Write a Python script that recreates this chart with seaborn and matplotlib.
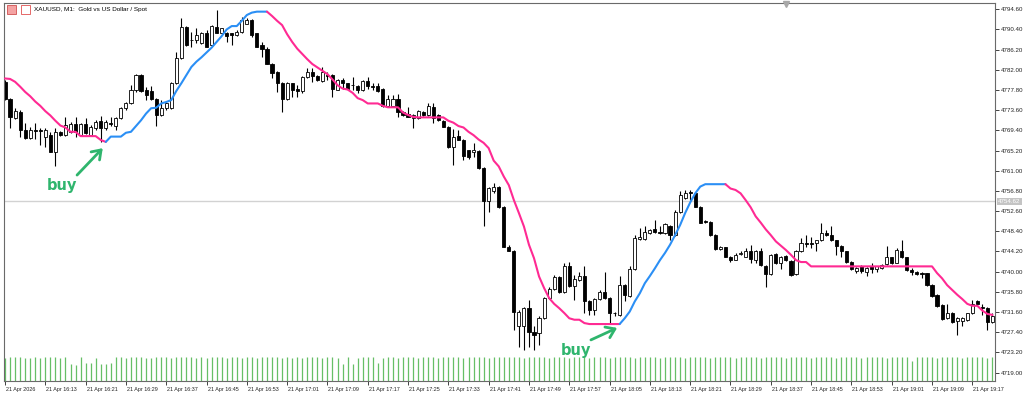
import numpy as np
import pandas as pd
import matplotlib
matplotlib.use('Agg')
import matplotlib.pyplot as plt
import matplotlib.transforms as mtransforms
from matplotlib.patches import Rectangle
import seaborn as sns

# XAUUSD M1 bars, 21 Apr 2026 16:05 -> 19:21
opens = [4779.5, 4775.9, 4771.9, 4773.3, 4769.5, 4767.9, 4769.5, 4769.5, 4768.1, 4768.4,
         4765.0, 4769.1, 4768.4, 4769.1, 4770.7, 4768.4, 4770.7, 4768.4, 4769.8, 4771.4,
         4769.8, 4771.0, 4770.3, 4771.9, 4774.0, 4775.0, 4777.8, 4780.9, 4777.9, 4777.6,
         4775.9, 4772.6, 4774.0, 4774.0, 4779.2, 4784.4, 4791.0, 4788.3, 4788.2, 4787.6,
         4789.6, 4787.1, 4791.0, 4789.6, 4789.6, 4789.6, 4789.2, 4789.9, 4791.6, 4792.3,
         4789.6, 4787.1, 4786.4, 4783.3, 4781.6, 4779.3, 4775.9, 4779.2, 4778.1, 4777.6,
         4780.4, 4781.6, 4780.7, 4779.7, 4781.0, 4780.9, 4777.9, 4779.9, 4779.2, 4778.9,
         4778.6, 4777.8, 4779.7, 4778.7, 4778.6, 4778.1, 4774.5, 4774.5, 4775.9, 4773.3,
         4772.9, 4771.9, 4771.9, 4773.3, 4772.6, 4774.3, 4772.6, 4771.4, 4770.2, 4765.9,
         4768.2, 4767.4, 4765.3, 4765.0, 4765.2, 4761.5, 4754.6, 4756.7, 4757.6, 4753.5,
         4745.2, 4744.4, 4728.6, 4728.6, 4732.4, 4727.5, 4727.2, 4730.3, 4734.5, 4736.4,
         4738.8, 4735.7, 4741.1, 4737.0, 4738.3, 4739.1, 4733.8, 4732.0, 4734.3, 4735.7,
         4734.5, 4731.4, 4731.0, 4737.2, 4735.0, 4740.5, 4746.7, 4746.7, 4748.0, 4748.8,
         4748.3, 4748.0, 4749.5, 4747.6, 4752.5, 4755.3, 4756.5, 4756.3, 4753.5, 4750.5,
         4750.4, 4747.6, 4744.7, 4745.1, 4743.1, 4742.5, 4743.7, 4743.1, 4744.4, 4742.4,
         4744.4, 4741.2, 4739.5, 4743.7, 4741.8, 4743.3, 4742.3, 4739.5, 4744.2, 4746.0,
         4746.0, 4745.9, 4746.5, 4748.0, 4747.6, 4746.5, 4745.4, 4744.2, 4742.1, 4740.2,
         4741.1, 4740.0, 4741.1, 4740.5, 4740.7, 4741.6, 4743.0, 4741.9, 4744.4, 4743.0,
         4740.4, 4740.0, 4739.7, 4739.7, 4737.2, 4735.2, 4733.1, 4730.3, 4731.5, 4729.8,
         4729.8, 4730.0, 4731.4, 4733.8, 4732.7, 4732.4, 4729.6]
closes = [4775.9, 4772.1, 4773.4, 4769.5, 4767.9, 4769.5, 4769.2, 4769.2, 4769.5, 4765.0,
          4769.1, 4768.4, 4770.5, 4770.7, 4769.1, 4770.7, 4768.9, 4770.2, 4771.2, 4769.8,
          4771.2, 4770.7, 4771.9, 4774.0, 4775.0, 4777.8, 4780.9, 4777.6, 4776.7, 4775.9,
          4772.6, 4774.0, 4775.0, 4779.2, 4784.4, 4791.0, 4787.1, 4788.1, 4789.2, 4789.6,
          4786.8, 4791.1, 4789.7, 4790.6, 4789.0, 4789.2, 4789.9, 4792.3, 4792.3, 4789.2,
          4786.8, 4786.4, 4783.3, 4781.3, 4779.2, 4775.9, 4779.3, 4777.9, 4777.6, 4780.4,
          4781.6, 4780.7, 4779.9, 4781.6, 4780.8, 4778.1, 4779.9, 4779.2, 4778.1, 4778.8,
          4777.8, 4779.7, 4778.6, 4778.5, 4777.6, 4774.5, 4775.9, 4775.9, 4773.3, 4772.6,
          4772.2, 4772.6, 4773.5, 4772.6, 4774.5, 4771.9, 4771.5, 4770.2, 4765.9, 4768.1,
          4767.4, 4764.1, 4763.9, 4765.3, 4761.5, 4754.6, 4757.4, 4757.7, 4753.4, 4745.2,
          4744.4, 4731.7, 4731.7, 4732.4, 4727.5, 4726.9, 4730.3, 4734.5, 4736.4, 4738.8,
          4735.7, 4741.1, 4737.0, 4738.4, 4739.1, 4733.8, 4732.0, 4734.3, 4735.7, 4734.5,
          4731.4, 4731.3, 4737.2, 4735.2, 4740.5, 4747.0, 4747.3, 4748.3, 4748.7, 4748.3,
          4748.0, 4749.9, 4747.6, 4752.5, 4756.0, 4756.4, 4756.4, 4753.5, 4750.2, 4750.4,
          4747.6, 4744.7, 4745.1, 4743.1, 4742.5, 4743.4, 4743.9, 4744.2, 4742.7, 4744.4,
          4741.4, 4739.5, 4743.4, 4741.8, 4743.1, 4742.4, 4739.3, 4744.2, 4745.9, 4745.8,
          4745.8, 4746.5, 4748.0, 4747.6, 4746.5, 4745.4, 4744.2, 4742.1, 4740.5, 4740.7,
          4740.2, 4740.7, 4740.5, 4741.1, 4741.4, 4743.0, 4741.8, 4744.5, 4743.0, 4740.4,
          4740.0, 4739.5, 4739.6, 4737.2, 4735.0, 4732.9, 4730.1, 4731.5, 4729.6, 4730.3,
          4730.3, 4731.4, 4733.3, 4733.3, 4732.5, 4729.6, 4730.7]
highs = [4779.9, 4776.1, 4774.0, 4773.6, 4770.9, 4770.2, 4770.9, 4769.8, 4769.8, 4769.1,
         4769.8, 4769.3, 4772.1, 4771.2, 4772.2, 4771.0, 4771.9, 4770.5, 4771.5, 4772.4,
         4771.5, 4772.1, 4772.2, 4774.2, 4775.4, 4778.8, 4781.1, 4781.1, 4778.5, 4778.6,
         4776.1, 4775.7, 4775.4, 4779.5, 4785.8, 4792.7, 4791.1, 4789.9, 4790.6, 4789.9,
         4790.3, 4791.3, 4794.4, 4790.8, 4789.9, 4789.7, 4790.3, 4793.0, 4792.7, 4792.5,
         4789.7, 4787.8, 4786.7, 4783.5, 4781.8, 4779.5, 4779.5, 4779.3, 4778.8, 4780.7,
         4782.3, 4782.3, 4780.9, 4782.6, 4781.6, 4781.1, 4780.0, 4780.2, 4779.3, 4780.6,
         4778.8, 4779.9, 4780.6, 4779.2, 4779.2, 4778.3, 4776.7, 4776.7, 4776.9, 4773.5,
         4774.3, 4772.8, 4773.6, 4773.5, 4775.0, 4775.0, 4772.8, 4771.5, 4770.3, 4769.6,
         4769.5, 4767.5, 4765.4, 4766.8, 4765.3, 4761.7, 4757.7, 4758.4, 4757.8, 4753.7,
         4745.6, 4744.5, 4732.0, 4732.6, 4734.1, 4728.6, 4730.7, 4734.8, 4736.9, 4739.3,
         4739.0, 4741.8, 4742.1, 4739.3, 4740.0, 4741.1, 4734.0, 4734.5, 4736.2, 4740.0,
         4734.7, 4731.7, 4739.1, 4737.5, 4741.1, 4747.6, 4749.0, 4749.4, 4748.8, 4750.8,
         4749.4, 4750.1, 4749.7, 4752.8, 4756.7, 4757.0, 4756.9, 4756.4, 4753.7, 4750.8,
         4750.6, 4747.8, 4745.4, 4745.2, 4743.3, 4743.8, 4744.2, 4744.9, 4745.6, 4744.5,
         4744.9, 4741.4, 4743.7, 4743.8, 4743.3, 4743.4, 4742.4, 4744.5, 4747.0, 4747.6,
         4747.3, 4746.6, 4750.1, 4748.7, 4749.4, 4746.6, 4745.6, 4744.4, 4742.3, 4740.9,
         4741.4, 4740.9, 4741.8, 4741.2, 4741.6, 4745.4, 4743.1, 4744.9, 4746.6, 4743.1,
         4740.7, 4740.2, 4740.0, 4739.8, 4737.5, 4735.4, 4733.3, 4733.3, 4731.7, 4730.5,
         4730.5, 4731.5, 4734.0, 4734.0, 4733.3, 4732.6, 4731.4]
lows = [4775.7, 4769.8, 4771.7, 4768.1, 4767.7, 4767.7, 4767.7, 4766.3, 4766.0, 4764.8,
        4761.9, 4768.2, 4768.2, 4768.9, 4768.1, 4768.2, 4768.6, 4768.2, 4769.5, 4767.0,
        4769.5, 4770.3, 4769.5, 4771.7, 4773.6, 4774.9, 4777.4, 4777.4, 4775.7, 4775.7,
        4770.3, 4772.4, 4773.6, 4773.8, 4779.0, 4784.2, 4786.9, 4786.8, 4787.5, 4787.4,
        4786.7, 4786.9, 4789.6, 4789.4, 4787.8, 4787.1, 4789.0, 4789.7, 4791.5, 4788.9,
        4786.7, 4784.7, 4783.2, 4780.2, 4777.4, 4773.3, 4775.7, 4776.4, 4776.3, 4777.1,
        4780.2, 4779.5, 4779.7, 4779.5, 4779.9, 4776.3, 4777.8, 4778.1, 4777.9, 4777.8,
        4777.1, 4777.6, 4778.1, 4777.8, 4777.4, 4774.3, 4774.3, 4774.3, 4772.2, 4772.4,
        4772.1, 4769.8, 4771.7, 4772.4, 4772.4, 4771.0, 4771.4, 4770.0, 4765.7, 4762.2,
        4767.3, 4763.2, 4763.4, 4763.9, 4761.3, 4749.4, 4752.5, 4756.4, 4753.2, 4745.1,
        4744.2, 4727.9, 4724.4, 4723.7, 4724.4, 4723.7, 4724.8, 4730.1, 4734.3, 4736.2,
        4735.5, 4735.5, 4736.9, 4734.1, 4738.1, 4731.4, 4731.0, 4731.0, 4734.1, 4734.3,
        4729.3, 4730.7, 4730.8, 4733.8, 4734.8, 4740.4, 4746.6, 4746.6, 4747.9, 4748.1,
        4747.9, 4747.9, 4746.6, 4747.4, 4752.3, 4755.1, 4754.9, 4753.4, 4750.1, 4750.2,
        4747.4, 4744.5, 4744.5, 4743.0, 4742.1, 4742.4, 4743.4, 4743.0, 4741.8, 4741.8,
        4741.2, 4736.9, 4739.3, 4741.6, 4740.5, 4742.3, 4739.0, 4739.3, 4744.0, 4745.2,
        4744.9, 4744.2, 4746.3, 4747.4, 4746.3, 4743.4, 4743.1, 4741.9, 4740.4, 4739.8,
        4739.8, 4739.0, 4739.8, 4740.0, 4740.5, 4741.4, 4741.6, 4741.8, 4742.8, 4740.2,
        4739.3, 4739.3, 4738.6, 4737.0, 4734.8, 4732.7, 4730.0, 4730.1, 4729.4, 4726.9,
        4728.7, 4729.8, 4731.2, 4733.1, 4731.0, 4727.9, 4729.4]
trend = [4780.2, 4780.1, 4779.5, 4778.5, 4777.4, 4776.5, 4775.4, 4774.5, 4773.4, 4772.5,
         4771.4, 4770.4, 4770.0, 4769.1, 4769.1, 4768.2, 4768.2, 4768.2, 4768.2, 4767.4,
         4767.0, 4768.1, 4768.1, 4768.1, 4768.9, 4769.1, 4770.3, 4771.5, 4772.9, 4774.0,
         4774.1, 4775.0, 4775.3, 4775.7, 4777.6, 4779.2, 4780.9, 4782.6, 4783.7, 4784.6,
         4785.6, 4786.6, 4787.8, 4789.0, 4790.4, 4791.1, 4791.1, 4792.2, 4793.4, 4793.9,
         4794.1, 4794.1, 4794.1, 4793.2, 4792.2, 4791.3, 4789.4, 4787.8, 4786.4, 4785.3,
         4784.2, 4783.2, 4782.5, 4781.8, 4781.1, 4780.0, 4778.8, 4778.1, 4777.9, 4777.2,
         4776.1, 4775.7, 4775.0, 4775.0, 4775.0, 4774.5, 4774.2, 4774.2, 4774.2, 4773.1,
         4772.6, 4772.2, 4772.1, 4772.1, 4772.1, 4772.1, 4772.1, 4772.1, 4771.4, 4771.0,
         4770.3, 4770.0, 4769.1, 4768.4, 4767.5, 4766.8, 4765.7, 4763.1, 4761.9, 4759.8,
         4758.0, 4754.9, 4752.2, 4749.4, 4745.6, 4742.8, 4739.0, 4736.6, 4734.5, 4733.3,
         4732.4, 4731.4, 4730.3, 4730.0, 4730.0, 4729.3, 4729.1, 4729.1, 4729.1, 4729.1,
         4729.1, 4729.1, 4729.1, 4730.3, 4731.7, 4733.8, 4735.5, 4737.6, 4739.1, 4740.7,
         4742.4, 4743.9, 4745.6, 4747.6, 4749.7, 4752.2, 4754.4, 4756.3, 4757.7, 4758.2,
         4758.2, 4758.2, 4758.2, 4758.2, 4757.3, 4757.0, 4756.3, 4754.9, 4753.4, 4751.5,
         4750.2, 4748.8, 4747.6, 4746.3, 4745.4, 4744.5, 4743.5, 4742.4, 4742.0, 4742.0,
         4741.1, 4741.1, 4741.1, 4741.1, 4741.1, 4741.1, 4741.1, 4741.1, 4741.1, 4741.1,
         4741.1, 4741.1, 4741.1, 4741.1, 4741.1, 4741.1, 4741.1, 4741.1, 4741.1, 4741.1,
         4741.1, 4741.1, 4741.1, 4741.1, 4741.1, 4739.7, 4738.6, 4737.2, 4736.2, 4735.2,
         4734.3, 4733.3, 4732.9, 4732.9, 4731.9, 4731.2, 4731.0]
# bar index where the trend line flips colour (starts as down / pink)
trend_flips = [21, 53, 123, 144]
volumes = [95, 98, 96, 97, 92, 95, 96, 94, 97, 98, 96, 95, 97, 70, 66, 96, 72, 74, 95, 70,
           68, 72, 96, 97, 95, 98, 97, 96, 95, 94, 97, 98, 96, 95, 97, 98, 96, 97, 95, 96,
           94, 97, 98, 96, 95, 97, 96, 94, 98, 97, 95, 96, 97, 98, 96, 95, 97, 94, 96, 95,
           97, 96, 98, 95, 97, 96, 94, 70, 96, 68, 95, 97, 96, 98, 72, 95, 97, 96, 95, 98,
           97, 96, 95, 97, 98, 96, 95, 97, 96, 98, 97, 95, 96, 97, 98, 96, 95, 97, 98, 96,
           97, 98, 96, 95, 97, 98, 96, 97, 95, 98, 96, 97, 95, 98, 96, 97, 95, 96, 98, 97,
           95, 96, 97, 98, 96, 95, 97, 98, 96, 97, 95, 96, 98, 97, 96, 95, 97, 98, 96, 97,
           95, 96, 97, 98, 96, 95, 97, 96, 98, 97, 95, 96, 97, 98, 96, 95, 97, 96, 98, 97,
           95, 96, 97, 98, 96, 95, 97, 96, 98, 97, 95, 96, 97, 98, 96, 95, 97, 96, 98, 97,
           80, 96, 97, 98, 96, 95, 97, 96, 98, 97, 95, 96, 97, 98, 96, 95, 97]
price_ticks = [4794.60, 4790.40, 4786.20, 4782.00, 4777.80, 4773.60, 4769.40, 4765.20,
               4761.00, 4756.80, 4752.60, 4748.40, 4744.20, 4740.00, 4735.80, 4731.60,
               4727.40, 4723.20, 4719.00]
time_ticks = [0, 8, 16, 24, 32, 40, 48, 56, 64, 72, 80, 88, 96, 104, 112, 120, 128,
              136, 144, 152, 160, 168, 176, 184, 192]
time_labels = ['21 Apr 2026', '21 Apr 16:13', '21 Apr 16:21', '21 Apr 16:29', '21 Apr 16:37',
               '21 Apr 16:45', '21 Apr 16:53', '21 Apr 17:01', '21 Apr 17:09', '21 Apr 17:17',
               '21 Apr 17:25', '21 Apr 17:33', '21 Apr 17:41', '21 Apr 17:49', '21 Apr 17:57',
               '21 Apr 18:05', '21 Apr 18:13', '21 Apr 18:21', '21 Apr 18:29', '21 Apr 18:37',
               '21 Apr 18:45', '21 Apr 18:53', '21 Apr 19:01', '21 Apr 19:09', '21 Apr 19:17']
bid_price = 4754.62
buy_signals = [(19.4, 4765.7), (121.5, 4728.3)]
buy_labels = [(11.3, 4758.0), (113.3, 4723.7)]

df = pd.DataFrame({'open': opens, 'high': highs, 'low': lows, 'close': closes,
                   'trend': trend, 'volume': volumes})
df['bar'] = np.arange(len(df))
df['high'] = df[['open', 'high', 'close']].max(axis=1)
df['low'] = df[['open', 'low', 'close']].min(axis=1)

sns.set_theme(style='white')
plt.rcParams['font.family'] = ['Liberation Sans', 'DejaVu Sans']

PINK = '#ff2a93'
BLUE = '#2b8ff5'
GREEN = '#2fb56d'
VOLG = '#66bf66'

fig = plt.figure(figsize=(10.24, 4.01), dpi=100)
ax = fig.add_axes([4 / 1024, 1 - 381 / 401, 991 / 1024, 378 / 401])

# volumes on their own scale at the bottom
axv = ax.twinx()
axv.vlines(df['bar'], 0, df['volume'], color=VOLG, lw=0.9, zorder=1)
axv.set_ylim(0, max(volumes) * 378 / 24)
axv.set_yticks([])
for s in axv.spines.values():
    s.set_visible(False)
ax.set_zorder(axv.get_zorder() + 1)
ax.patch.set_visible(False)
fig.patch.set_facecolor('white')

# bid line
ax.axhline(bid_price, color='#d2d2d2', lw=1.0, zorder=0)

# candles
ax.vlines(df['bar'], df['low'], df['high'], color='black', lw=0.8, zorder=2)
body_lo = df[['open', 'close']].min(axis=1)
body_h = (df['close'] - df['open']).abs().clip(lower=0.12)
up = df['close'] >= df['open']
ax.bar(df['bar'][up], body_h[up], bottom=body_lo[up], width=0.62,
       color='white', edgecolor='black', linewidth=0.6, zorder=2)
ax.bar(df['bar'][~up], body_h[~up], bottom=body_lo[~up], width=0.62,
       color='black', edgecolor='black', linewidth=0.6, zorder=2)

# trend line with colour runs
bounds = [0] + trend_flips + [len(df)]
for k in range(len(bounds) - 1):
    a, b = bounds[k], bounds[k + 1]
    seg = df.iloc[max(a - 1, 0):b]
    sns.lineplot(data=seg, x='bar', y='trend', color=PINK if k % 2 == 0 else BLUE,
                 lw=1.5, ax=ax, zorder=3, legend=False)

# buy annotations
for (bx, by), (tx, ty) in zip(buy_signals, buy_labels):
    ax.annotate('', xy=(bx, by), xytext=(tx + 3.0, ty + 2.1),
                arrowprops=dict(arrowstyle='->,head_length=0.5,head_width=0.35',
                                color=GREEN, lw=2.0, shrinkA=0, shrinkB=0), zorder=5)
    ax.text(tx, ty, 'buy', color=GREEN, fontsize=10.5, fontweight='bold',
            family='DejaVu Sans', ha='center', va='center', zorder=5)

ax.set_xlim(-0.2, 196.5)
ax.set_ylim(4717.25, 4795.9)
ax.set_xlabel('')
ax.set_ylabel('')

ax.yaxis.tick_right()
ax.set_yticks(price_ticks)
ax.set_yticklabels([f'{p:.2f}' for p in price_ticks])
ax.tick_params(axis='y', which='major', direction='out', length=3, width=0.6,
               labelsize=4.4, pad=1, colors='#222222', right=True, left=False)
ax.set_xticks(time_ticks)
ax.set_xticklabels(time_labels, ha='left')
ax.tick_params(axis='x', which='major', direction='out', length=3, width=0.6,
               labelsize=3.9, pad=1.5, colors='#222222', bottom=True)
offset = mtransforms.ScaledTranslation(1 / 100, 0, fig.dpi_scale_trans)
for lab in ax.get_xticklabels():
    lab.set_transform(lab.get_transform() + offset)

for s in ax.spines.values():
    s.set_color('#6a6a6a')
    s.set_linewidth(0.8)
    s.set_visible(True)

# bid price tag
trans = mtransforms.blended_transform_factory(ax.transAxes, ax.transData)
ax.text(1.003, bid_price, f'{bid_price:.2f}', transform=trans, fontsize=4.4,
        color='white', va='center', ha='left', zorder=6, clip_on=False,
        bbox=dict(boxstyle='square,pad=0.2', fc='#c4c4c4', ec='none'))

# chart shift marker
ax.plot([0.789], [0.997], marker='v', color='#a8a8a8', ms=4, transform=ax.transAxes,
        clip_on=False, zorder=6)

# header
fig.patches.append(Rectangle((7 / 1024, 1 - 14 / 401), 9 / 1024, 9 / 401, transform=fig.transFigure,
                             fc='#f4a3a3', ec='#d05050', lw=0.6))
fig.patches.append(Rectangle((21 / 1024, 1 - 14 / 401), 9 / 1024, 9 / 401, transform=fig.transFigure,
                             fc='#ffffff', ec='#e05050', lw=0.6))
fig.text(34 / 1024, 1 - 9.5 / 401, 'XAUUSD, M1:  Gold vs US Dollar / Spot', fontsize=4.6,
         color='black', va='center', ha='left')

fig.savefig('out.png', dpi=100, facecolor='white')
